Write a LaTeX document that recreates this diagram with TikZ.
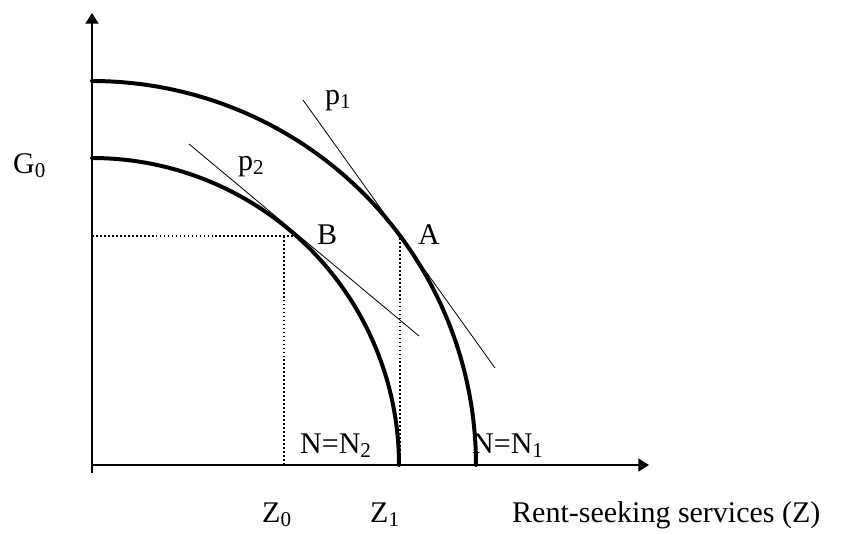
\documentclass[tikz,border=0pt]{standalone}
\usepackage{fontspec}
\setmainfont{Liberation Serif}
\usetikzlibrary{arrows.meta}
\newcommand\lowsub[1]{\raisebox{-4pt}{\fontsize{18pt}{18pt}\selectfont #1}}
\begin{document}
\begin{tikzpicture}[x=0.03cm,y=-0.03cm,
  axisline/.style={line width=1.3pt,-{Triangle[width=11pt,length=9pt]}},
  frontier/.style={line width=3.4pt,line cap=round},
  tangentline/.style={line width=0.7pt},
  guide/.style={line width=1.4pt,dash pattern=on 1.5pt off 1.9pt},
  lbl/.style={inner sep=0pt,anchor=base west,font=\fontsize{25.6pt}{30pt}\selectfont}]
\useasboundingbox (0,0) rectangle (844,534);
% axes
\coordinate (O) at (92,465);
\coordinate (ybot) at (92,473);
\coordinate (ytop) at (92,13);
\coordinate (xend) at (649,465);
\draw[axisline] (ybot) -- (ytop);
\draw[axisline] (O) -- (xend);
% frontiers
\draw[frontier] plot[smooth,domain=90:0,samples=80] ({92+384*cos(\x)},{465-384*sin(\x)});
\draw[frontier] plot[smooth,domain=90:0,samples=80] ({92+307*cos(\x)},{465-307*sin(\x)});
% guides
\coordinate (gB) at (92,236);
\coordinate (Bc) at (297,236);
\coordinate (Bt) at (284,236);
\coordinate (Z0b) at (284,465);
\coordinate (At) at (400,238);
\coordinate (Z1b) at (400,465);
\draw[guide] (gB) -- (Bc);
\draw[guide] (Bt) -- (Z0b);
\draw[guide] (At) -- (Z1b);
% tangents
\coordinate (p1a) at (303,100);
\coordinate (p1b) at (495,368);
\coordinate (p2a) at (189,144);
\coordinate (p2b) at (419,336);
\draw[tangentline] (p1a) -- (p1b);
\draw[tangentline] (p2a) -- (p2b);
% labels
\node[lbl] (G0) at (13,173) {G\lowsub{0}};
\node[lbl] (p1) at (325,104) {p\lowsub{1}};
\node[lbl] (p2) at (238,170) {p\lowsub{2}};
\node[lbl] (B) at (317,244) {B};
\node[lbl] (A) at (418,244) {A};
\node[lbl] (N2) at (300,453) {N=N\lowsub{2}};
\node[lbl] (N1) at (472,453) {N=N\lowsub{1}};
\node[lbl] (Z0) at (262,522) {Z\lowsub{0}};
\node[lbl] (Z1) at (370,522) {Z\lowsub{1}};
\node[lbl] (Zl) at (512,522) {Rent-seeking services (Z)};
\end{tikzpicture}
\end{document}
